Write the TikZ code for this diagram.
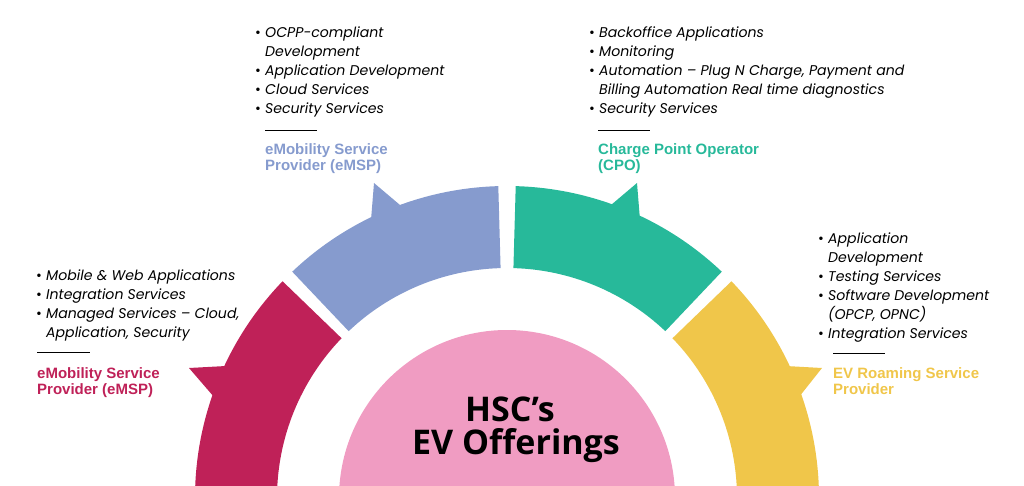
\documentclass[tikz,border=0pt]{standalone}
\usepackage{fontspec}
\setmainfont{Poppins}
\setsansfont{Liberation Sans}
\newfontfamily\hubfont{Open Sans}
\usetikzlibrary{calc}
\definecolor{crimson}{HTML}{BF2158}
\definecolor{lavender}{HTML}{869BCE}
\definecolor{jade}{HTML}{27B99A}
\definecolor{mustard}{HTML}{F0C64A}
\definecolor{rose}{HTML}{F09CC2}
\newcommand{\itm}{\makebox[10pt][l]{\upshape\textbullet}}
\newcommand{\cnt}{\hspace*{10pt}}
\newcommand{\segment}[3]{%
  \fill[#1] ($(C)+(#2:312pt)$) arc[start angle=#2,end angle=#3,radius=312pt]
     -- ($(C)+(#3:230pt)$) arc[start angle=#3,end angle=#2,radius=230pt] -- cycle;}
\begin{document}
\begin{tikzpicture}[x=1pt,y=1pt,
        list/.style={anchor=north west,align=left,font=\fontsize{14.1}{19}\selectfont\itshape,inner sep=0pt},
        head/.style={anchor=north west,align=left,font=\fontsize{15}{16}\selectfont\sffamily\bfseries,inner sep=0pt},
        rule/.style={line width=1pt}]
   \useasboundingbox (0,0) rectangle (1024,485);
   \clip (0,0) rectangle (1024,485);
   \coordinate (C) at (507,-13);
   % ring
   \segment{crimson}{136}{180}
   \segment{lavender}{91.6}{133.5}
   \segment{jade}{46.5}{88.4}
   \segment{mustard}{0}{44}
   \fill[lavender] (374,302) -- (400,280) -- (371,265) -- cycle;
   \fill[jade] (637,302) -- (611,280) -- (640,265) -- cycle;
   \fill[crimson] (189,117) -- (226,119) -- (214,88) -- cycle;
   \fill[mustard] (822,117) -- (786,119) -- (799,88) -- cycle;
   % hub
   \fill[rose] ($(C)+(0:168pt)$) arc[start angle=0,end angle=180,radius=168pt] -- cycle;
   \node (hub1) at (510,76) {\hubfont\bfseries\fontsize{34}{40}\selectfont HSC’s};
   \node (hub2) at (516,39) {\hubfont\bfseries\fontsize{34}{40}\selectfont EV Offerings};
   % top left
   \node[list] (tl) at (255,458) {\itm OCPP-compliant\\\cnt Development\\\itm Application Development\\\itm Cloud Services\\\itm Security Services};
   \draw[rule] (265,354) -- (317,354);
   \node[head,lavender] (tlh) at (265,342) {eMobility Service\\Provider (eMSP)};
   % top right
   \node[list] (tr) at (589,458) {\itm Backoffice Applications\\\itm Monitoring\\\itm Automation – Plug N Charge, Payment and\\\cnt Billing Automation Real time diagnostics\\\itm Security Services};
   \draw[rule] (598,354) -- (650,354);
   \node[head,jade] (trh) at (598,342) {Charge Point Operator\\(CPO)};
   % left
   \node[list] (lf) at (36,215) {\itm Mobile \& Web Applications\\\itm Integration Services\\\itm Managed Services – Cloud,\\\cnt Application, Security};
   \draw[rule] (37,133) -- (90,133);
   \node[head,crimson] (lfh) at (37,118) {eMobility Service\\Provider (eMSP)};
   % right
   \node[list] (rt) at (818,252) {\itm Application\\\cnt Development\\\itm Testing Services\\\itm Software Development\\\cnt (OPCP, OPNC)\\\itm Integration Services};
   \draw[rule] (833,132) -- (885,132);
   \node[head,mustard] (rth) at (833,118) {EV Roaming Service\\Provider};
\end{tikzpicture}
\end{document}
